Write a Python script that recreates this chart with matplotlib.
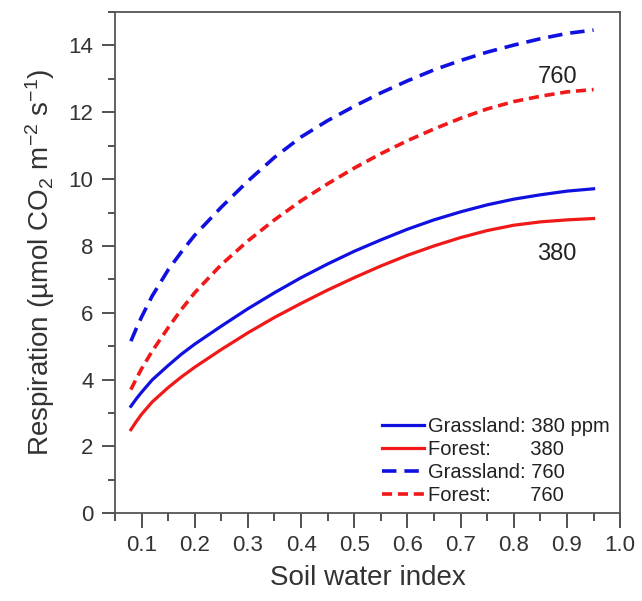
import numpy as np
import matplotlib.pyplot as plt
from matplotlib.ticker import MultipleLocator, FormatStrFormatter

plt.rcParams['font.family'] = ['Liberation Sans', 'DejaVu Sans']
plt.rcParams['mathtext.default'] = 'regular'

# DATA
swi = [0.08, 0.09, 0.10, 0.12, 0.15, 0.175, 0.20, 0.25, 0.30, 0.35, 0.40,
       0.45, 0.50, 0.55, 0.60, 0.65, 0.70, 0.75, 0.80, 0.85, 0.90, 0.95]
grass_380 = [3.20, 3.42, 3.62, 3.99, 4.42, 4.76, 5.06, 5.60, 6.12, 6.60, 7.05,
             7.46, 7.84, 8.18, 8.50, 8.78, 9.02, 9.23, 9.40, 9.53, 9.64, 9.71]
forest_380 = [2.50, 2.74, 2.96, 3.33, 3.76, 4.08, 4.37, 4.90, 5.40, 5.86, 6.28,
              6.68, 7.05, 7.40, 7.72, 8.00, 8.25, 8.46, 8.62, 8.72, 8.78, 8.82]
grass_760 = [5.15, 5.52, 5.87, 6.50, 7.28, 7.82, 8.32, 9.16, 9.94, 10.65, 11.26,
             11.75, 12.18, 12.58, 12.94, 13.27, 13.55, 13.80, 14.01, 14.20, 14.36, 14.46]
forest_760 = [3.70, 4.02, 4.32, 4.85, 5.55, 6.10, 6.60, 7.44, 8.15, 8.78, 9.35,
              9.86, 10.33, 10.76, 11.15, 11.50, 11.82, 12.10, 12.32, 12.48, 12.61, 12.68]

blue = '#1010e0'
red = '#f01818'
grey = '#333333'

fig = plt.figure(figsize=(6.42, 6.01), dpi=100)
ax = fig.add_axes([0.179, 0.146, 0.787, 0.834])

ax.plot(swi, grass_380, color=blue, lw=2.3, label='Grassland: 380 ppm')
ax.plot(swi, forest_380, color=red, lw=2.3, label='Forest:       380')
ax.plot(swi, grass_760, color=blue, lw=2.6, dashes=(4, 2.2), label='Grassland: 760')
ax.plot(swi, forest_760, color=red, lw=2.6, dashes=(2.8, 1.6), label='Forest:       760')

ax.text(0.883, 13.05, '760', fontsize=17, color='#222222', ha='center', va='center')
ax.text(0.88, 7.75, '380', fontsize=17, color='#222222', ha='center', va='center')

ax.set_xlim(0.05, 1.0)
ax.set_ylim(0, 15)
ax.xaxis.set_major_locator(MultipleLocator(0.1))
ax.xaxis.set_minor_locator(MultipleLocator(0.05))
ax.xaxis.set_major_formatter(FormatStrFormatter('%.1f'))
ax.yaxis.set_major_locator(MultipleLocator(2))
ax.yaxis.set_minor_locator(MultipleLocator(1))
ax.tick_params(which='both', direction='out', color=grey, labelcolor=grey,
               labelsize=16, width=1.2)
ax.tick_params(axis='x', which='major', length=11, pad=5)
ax.tick_params(axis='x', which='minor', length=6)
ax.tick_params(axis='y', which='major', length=9.5, pad=6)
ax.tick_params(axis='y', which='minor', length=5)
for s in ax.spines.values():
    s.set_color('#555555')
    s.set_linewidth(1.3)

ax.set_xlabel('Soil water index', fontsize=20, color=grey, labelpad=6)
ax.set_ylabel('Respiration (µmol CO$_2$ m$^{-2}$ s$^{-1}$)', fontsize=20,
              color=grey, labelpad=8)

leg = ax.legend(loc='lower right', bbox_to_anchor=(0.995, 0.0), frameon=False,
                fontsize=14.5, handlelength=2.1, handletextpad=0.2,
                labelspacing=0.2, borderaxespad=0)
for t in leg.get_texts():
    t.set_color('#222222')

fig.savefig('out.png', dpi=100)
